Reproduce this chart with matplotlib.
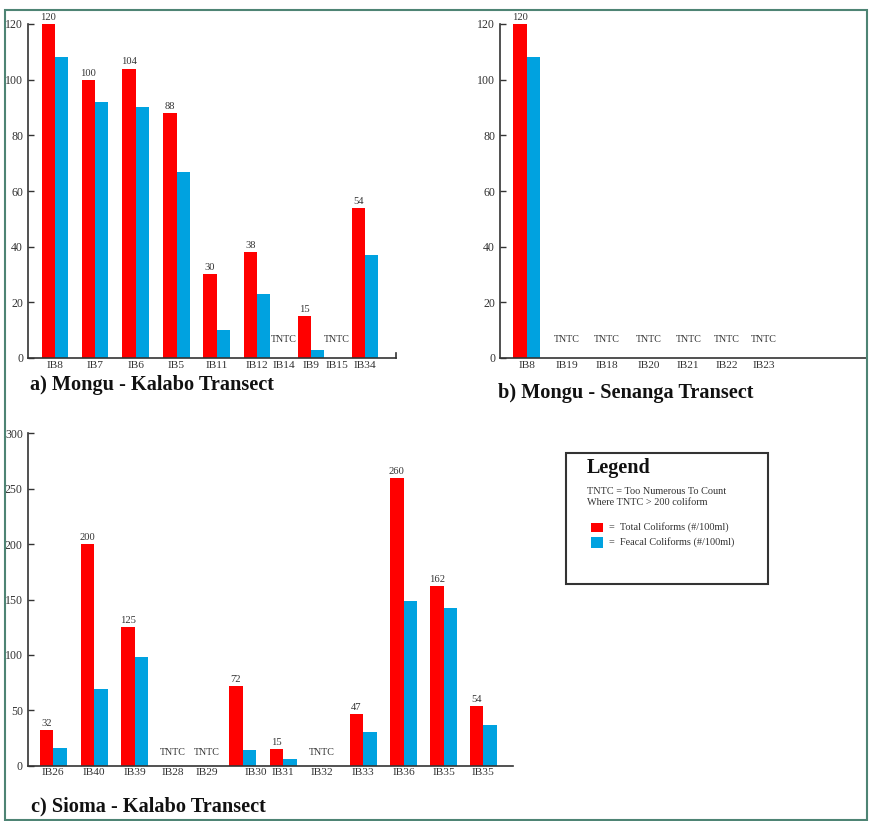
import matplotlib
matplotlib.use("Agg")
import matplotlib.pyplot as plt
from matplotlib.patches import Rectangle
import numpy as np

plt.rcParams['font.family'] = ['Liberation Serif', 'DejaVu Serif']

# ---- data -----------------------------------------------------------------
sites_a = ["IB8", "IB7", "IB6", "IB5", "IB11", "IB12", "IB14", "IB9", "IB15", "IB34"]
total_a = [120, 100, 104, 88, 30, 38, None, 15, None, 54]
fecal_a = [108, 92, 90, 67, 10, 23, None, 3, None, 37]

sites_b = ["IB8", "IB19", "IB18", "IB20", "IB21", "IB22", "IB23"]
total_b = [120, None, None, None, None, None, None]
fecal_b = [108, None, None, None, None, None, None]

sites_c = ["IB26", "IB40", "IB39", "IB28", "IB29", "IB30", "IB31", "IB32",
           "IB33", "IB36", "IB35", "IB35"]
total_c = [32, 200, 125, None, None, 72, 15, None, 47, 260, 162, 54]
fecal_c = [16, 69, 98, None, None, 14, 6, None, 30, 149, 142, 37]

titles = ["a) Mongu - Kalabo Transect",
          "b) Mongu - Senanga Transect",
          "c) Sioma - Kalabo Transect"]

# ---- layout ---------------------------------------------------------------
slots_a = [0, 1.0, 2.02, 3.04, 4.04, 5.05, 5.73, 6.4, 7.05, 7.75]
slots_b = [0, 1.0, 2.01, 3.05, 4.04, 5.01, 5.93]
slots_c = [0, 1.01, 2.02, 2.95, 3.8, 4.69, 5.69, 6.64, 7.67, 8.67, 9.66, 10.64]
label_shift_c = {5: 0.32}   # IB30 label sits right of its bars

W, H = 870, 821
RED = "#ff0000"
BLUE = "#00a2e0"
INK = "#333333"
FRAME = "#4e8474"

fig = plt.figure(figsize=(W / 100, H / 100), dpi=100)
fig.patch.set_facecolor("white")


def box(l, t, r, b):
    return [l / W, 1 - b / H, (r - l) / W, (b - t) / H]


def panel(rect, xlim, ymax, ystep, sites, slots, total, fecal, tntc_y,
          shift=None, right_tick=None, bw=0.333):
    ax = fig.add_axes(rect)
    ax.set_xlim(*xlim)
    ax.set_ylim(0, ymax)
    ax.patch.set_alpha(0)
    for s in ("top", "right"):
        ax.spines[s].set_visible(False)
    for s in ("left", "bottom"):
        ax.spines[s].set_color(INK)
        ax.spines[s].set_linewidth(1.2)
    if right_tick is not None:
        ax.spines["right"].set_visible(True)
        ax.spines["right"].set_bounds(0, right_tick)
        ax.spines["right"].set_color(INK)
        ax.spines["right"].set_linewidth(1.2)
    ax.set_yticks(np.arange(0, ymax + 1, ystep))
    ax.tick_params(axis="y", direction="in", length=4, width=1, color=INK,
                   labelsize=8.6, labelcolor=INK, pad=3.5)
    shift = shift or {}
    ticks = [p + shift.get(i, 0) for i, p in enumerate(slots)]
    ax.set_xticks(ticks)
    ax.set_xticklabels(sites)
    ax.tick_params(axis="x", length=0, labelsize=8.2, labelcolor=INK, pad=2)

    for p, t, f in zip(slots, total, fecal):
        if t is None:
            ax.text(p, tntc_y, "TNTC", ha="center", va="center",
                    fontsize=7.2, color=INK)
            continue
        ax.bar(p - bw / 2, t, width=bw, color=RED, linewidth=0)
        ax.bar(p + bw / 2, f, width=bw, color=BLUE, linewidth=0)
        ax.annotate(f"{t}", (p - bw / 2, t), xytext=(0, 1.5),
                    textcoords="offset points", ha="center", va="bottom",
                    fontsize=7.6, color=INK, annotation_clip=False)
    return ax


panel(box(28, 24, 396, 358), (-0.675, 8.525), 120, 20,
      sites_a, slots_a, total_a, fecal_a, 6.5, right_tick=1.8)
panel(box(500, 24, 866, 358), (-0.667, 8.48), 120, 20,
      sites_b, slots_b, total_b, fecal_b, 6.5)
panel(box(27.7, 433.3, 513, 765.7), (-0.634, 11.38), 300, 50,
      sites_c, slots_c, total_c, fecal_c, 12.1, shift=label_shift_c,
      bw=0.335)

# panel titles
for (x, y), t in zip([(30, 385), (498, 393), (30.7, 806.5)], titles):
    fig.text(x / W, 1 - y / H, t, ha="left", va="center",
             fontsize=14.6, fontweight="bold", color="#111111")

# legend box
fig.add_artist(Rectangle((566 / W, 1 - 584 / H), (768.3 - 566) / W,
                         (584 - 452.7) / H, transform=fig.transFigure,
                         fill=False, edgecolor=INK, linewidth=1.5))
fig.text(586.7 / W, 1 - 468 / H, "Legend", ha="left", va="center",
         fontsize=14.5, fontweight="bold", color="#111111")
fig.text(586.7 / W, 1 - 491.7 / H, "TNTC = Too Numerous To Count",
         ha="left", va="center", fontsize=7.4, color=INK)
fig.text(586.7 / W, 1 - 502.7 / H, "Where TNTC > 200 coliform",
         ha="left", va="center", fontsize=7.4, color=INK)
for (y0, y1), c, label in [((522.7, 532.3), RED, "=  Total Coliforms (#/100ml)"),
                           ((536.7, 548.3), BLUE, "=  Feacal Coliforms (#/100ml)")]:
    fig.add_artist(Rectangle((590.7 / W, 1 - y1 / H), (603.3 - 590.7) / W,
                             (y1 - y0) / H, transform=fig.transFigure,
                             facecolor=c, edgecolor="none"))
    fig.text(609 / W, 1 - (y0 + y1) / 2 / H, label, ha="left", va="center",
             fontsize=7.4, color=INK)

# outer frame
fig.add_artist(Rectangle((5.5 / W, 1 - 820 / H), (867 - 5.5) / W,
                         (820 - 10) / H, transform=fig.transFigure,
                         fill=False, edgecolor=FRAME, linewidth=1.5))

fig.savefig("out.png", dpi=100, facecolor="white")
